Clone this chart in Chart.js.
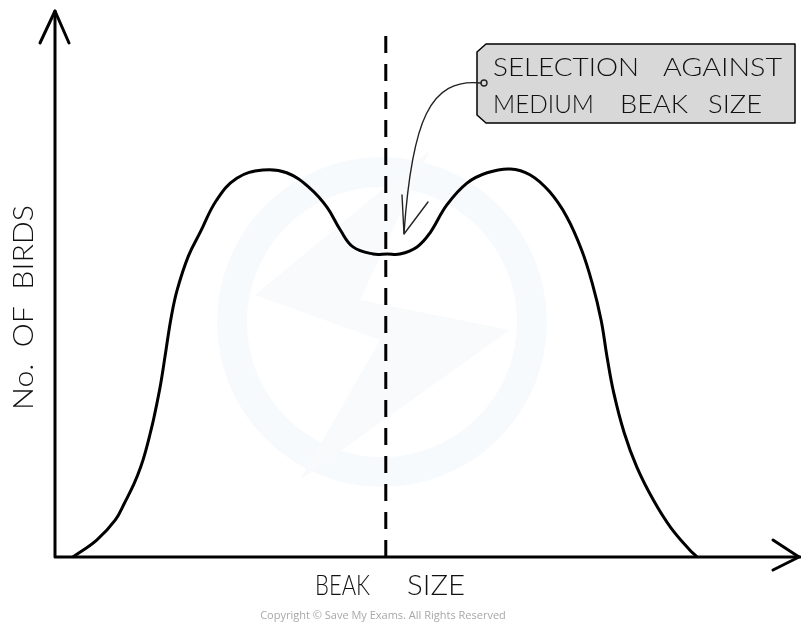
<!DOCTYPE html>
<html>
<head>
<meta charset="utf-8">
<script src="https://cdn.jsdelivr.net/npm/chart.js@4"></script>
<style>
  html, body { margin: 0; padding: 0; background: #ffffff; }
  #wrap { width: 801px; height: 625px; position: relative; }
</style>
</head>
<body>
<div id="wrap"><canvas id="c"></canvas></div>
<script>
// ---- data (arbitrary units, 0-100) ----
const beakSize  = [2.4, 5.6, 8.1, 9.4, 10.6, 11.5, 12.2, 12.8, 13.3, 14.2, 14.9, 15.6, 16.4, 17.9, 19.5, 21.7, 24.4, 27.9, 31.1, 34.2, 36.5, 38.3, 40.0, 42.7, 44.6, 46.3, 48.6, 50.3, 52.6, 55.3, 58.0, 61.1, 63.8, 66.4, 68.7, 70.7, 72.1, 73.3, 74.1, 75.0, 76.4, 78.1, 80.3, 82.6, 85.2, 86.2];
const birdCount = [0, 3.1, 6.8, 10.1, 13.4, 16.5, 19.6, 22.8, 25.7, 31.9, 38.0, 44.0, 49.0, 55.2, 59.6, 65.5, 69.5, 71.0, 70.5, 67.7, 64.2, 60.0, 56.9, 55.6, 55.6, 55.6, 56.9, 59.4, 64.6, 68.6, 70.5, 71.2, 70.1, 67.0, 62.4, 56.3, 50.3, 43.5, 36.7, 30.1, 22.8, 16.5, 10.5, 5.5, 1.3, 0];
const mediumBeak = [44.4, 44.4];
const mediumLine = [0, 95.8];
const xLabel = ["BEAK", "SIZE"];
const yLabel = "No.  OF  BIRDS";
const noteLines = [["SELECTION", "AGAINST"], ["MEDIUM", "BEAK", "SIZE"]];
const copyright = "Copyright \u00A9 Save My Exams. All Rights Reserved";

const curve = beakSize.map((x, i) => ({ x: x, y: birdCount[i] }));
const dashed = mediumBeak.map((x, i) => ({ x: x, y: mediumLine[i] }));

const FONT = "Lato, 'Open Sans', sans-serif";

function fitText(ctx, text, x1, x2, baseline, size) {
  ctx.save();
  ctx.font = "300 " + size + "px " + FONT;
  const w = ctx.measureText(text).width;
  ctx.translate(x1, baseline);
  ctx.scale((x2 - x1) / w, 1);
  ctx.textAlign = "left";
  ctx.textBaseline = "alphabetic";
  ctx.fillText(text, 0, 0);
  ctx.restore();
}

const watermark = {
  id: "watermark",
  beforeDatasetsDraw(chart) {
    const ctx = chart.ctx;
    ctx.save();
    ctx.strokeStyle = "#f7fafd";
    ctx.lineWidth = 30;
    ctx.beginPath();
    ctx.arc(382, 322, 150, 0, Math.PI * 2);
    ctx.stroke();
    ctx.fillStyle = "#f8fafc";
    ctx.beginPath();
    ctx.moveTo(255, 295); ctx.lineTo(430, 150); ctx.lineTo(360, 300);
    ctx.lineTo(510, 330); ctx.lineTo(300, 480); ctx.lineTo(380, 340);
    ctx.closePath();
    ctx.fill();
    ctx.restore();
  }
};

const decor = {
  id: "decor",
  afterDatasetsDraw(chart) {
    const ctx = chart.ctx;
    const xs = chart.scales.x, ys = chart.scales.y;
    const x0 = xs.getPixelForValue(0), xMax = xs.getPixelForValue(100);
    const y0 = ys.getPixelForValue(0), yMax = ys.getPixelForValue(100);
    ctx.save();
    ctx.strokeStyle = "#000";
    ctx.lineCap = "round";
    ctx.lineJoin = "round";
    ctx.lineWidth = 3;
    // axes
    ctx.beginPath();
    ctx.moveTo(x0, yMax - 1); ctx.lineTo(x0, y0); ctx.lineTo(xMax, y0);
    ctx.stroke();
    // y arrow
    ctx.beginPath();
    ctx.moveTo(x0 - 15, yMax + 31); ctx.lineTo(x0, yMax - 1); ctx.lineTo(x0 + 14, yMax + 31);
    ctx.stroke();
    // x arrow
    ctx.beginPath();
    ctx.moveTo(xMax - 27, y0 - 17); ctx.lineTo(xMax - 1, y0); ctx.lineTo(xMax - 27, y0 + 13);
    ctx.stroke();

    // label box (tag)
    ctx.lineWidth = 1.5;
    ctx.fillStyle = "#d8d8d8";
    ctx.beginPath();
    ctx.moveTo(486, 44); ctx.lineTo(795, 44); ctx.lineTo(795, 123);
    ctx.lineTo(486, 123); ctx.lineTo(477, 115); ctx.lineTo(477, 52);
    ctx.closePath();
    ctx.fill();
    ctx.stroke();

    // note text
    ctx.fillStyle = "#111";
    fitText(ctx, noteLines[0][0], 493, 639, 76, 25);
    fitText(ctx, noteLines[0][1], 663, 782, 76, 25);
    fitText(ctx, noteLines[1][0], 493, 594, 113, 25);
    fitText(ctx, noteLines[1][1], 620, 688, 113, 25);
    fitText(ctx, noteLines[1][2], 708, 762, 113, 25);

    // pointer circle + curved arrow
    ctx.lineWidth = 1.4;
    ctx.strokeStyle = "#222";
    ctx.beginPath();
    ctx.arc(484, 83, 3, 0, Math.PI * 2);
    ctx.stroke();
    ctx.beginPath();
    ctx.moveTo(481, 83);
    ctx.bezierCurveTo(430, 78, 412, 120, 404, 233);
    ctx.stroke();
    ctx.beginPath();
    ctx.moveTo(402, 195); ctx.lineTo(404, 234); ctx.lineTo(428, 202);
    ctx.stroke();

    // axis labels
    ctx.fillStyle = "#111";
    fitText(ctx, xLabel[0], 315, 370, 595, 27);
    fitText(ctx, xLabel[1], 407, 465, 595, 27);
    ctx.save();
    ctx.translate(33, 410);
    ctx.rotate(-Math.PI / 2);
    fitText(ctx, yLabel, 0, 205, 0, 28);
    ctx.restore();

    // copyright
    ctx.fillStyle = "#a8a8a8";
    ctx.font = "11px 'Open Sans', sans-serif";
    ctx.textAlign = "center";
    ctx.textBaseline = "alphabetic";
    ctx.fillText(copyright, 383, 619);
    ctx.restore();
  }
};

new Chart(document.getElementById("c"), {
  type: "line",
  data: {
    datasets: [
      {
        data: curve,
        borderColor: "#000",
        borderWidth: 3,
        pointRadius: 0,
        tension: 0.4,
        fill: false,
        clip: false
      },
      {
        data: dashed,
        borderColor: "#000",
        borderWidth: 3,
        borderDash: [17, 11],
        pointRadius: 0,
        fill: false,
        clip: false
      }
    ]
  },
  options: {
    responsive: true,
    maintainAspectRatio: false,
    animation: false,
    events: [],
    layout: { padding: { left: 55, right: 1, top: 12, bottom: 68 } },
    plugins: { legend: { display: false }, tooltip: { enabled: false }, title: { display: false } },
    scales: {
      x: { type: "linear", min: 0, max: 100, display: false },
      y: { type: "linear", min: 0, max: 100, display: false }
    }
  },
  plugins: [watermark, decor]
});
</script>
</body>
</html>
